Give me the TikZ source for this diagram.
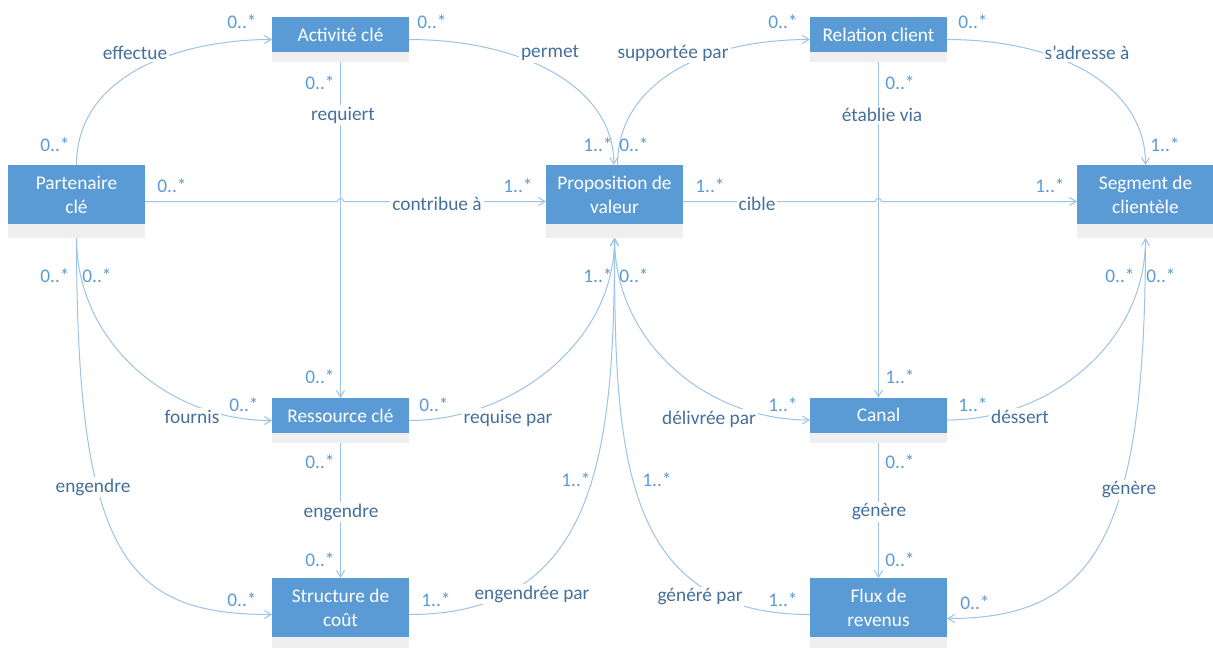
\documentclass[tikz,border=0pt]{standalone}
\usepackage{fontspec}
\setmainfont{Carlito}
\usetikzlibrary{arrows.meta}
\definecolor{entityblue}{HTML}{5B9BD5}
\definecolor{band}{HTML}{EFEFEF}
\definecolor{wire}{HTML}{9DC3E6}
\definecolor{rolecol}{HTML}{44709C}
\definecolor{multcol}{HTML}{5B9BD5}

% entity box: name, centre x, top y, blue height, band height, title
\newcommand\umlentity[6]{%
  \node[entity, minimum height={(#4+#5)*0.75pt}] (#1) at (#2,{#3+(#4+#5)/2}) {};
  \fill[entityblue] (#1.north west) rectangle ([yshift=#5*0.75pt]#1.south east);
  \node[title] (#1-t) at ([yshift=-#4*0.375pt]#1.north) {#6};
}
% small bridge where a line jumps over another one
\newcommand\hop[1]{-- ([xshift=-2.5pt]#1) .. controls ([xshift=-2pt,yshift=3pt]#1) and ([xshift=2pt,yshift=3pt]#1) .. ([xshift=2.5pt]#1)}

\begin{document}
\begin{tikzpicture}[x=0.75pt,y=-0.75pt,
  entity/.style={fill=band, minimum width=102.75pt, inner sep=0pt, outer sep=0pt},
  title/.style={text=white, font=\fontsize{14.5}{18}\selectfont, align=center, inner sep=0pt},
  conn/.style={draw=wire, line width=0.75pt},
  arr/.style={-{Straight Barb[length=5pt,width=6pt]}},
  role/.style={text=rolecol, fill=white, inner sep=1.5pt, font=\fontsize{14.5}{17}\selectfont},
  mult/.style={text=multcol, inner sep=0pt, font=\fontsize{14.5}{17}\selectfont},
]
\fill[white] (0,0) rectangle (1213,647);
\useasboundingbox (0,0) rectangle (1213,647);

% entities
\umlentity{pc}{76.5}{165}{59}{14}{Partenaire\\clé}
\umlentity{ac}{340.5}{17}{35}{10}{Activité clé}
\umlentity{rc}{340.5}{398}{35}{10}{Ressource clé}
\umlentity{sc}{340.5}{578}{59}{14}{Structure de\\coût}
\umlentity{pv}{614.5}{165}{59}{14}{Proposition de\\valeur}
\umlentity{rel}{878.5}{17}{35}{10}{Relation client}
\umlentity{can}{878.5}{397.5}{35}{10}{Canal}
\umlentity{flux}{878.5}{578}{59}{14}{Flux de\\revenus}
\umlentity{seg}{1145.5}{165}{59}{14}{Segment de\\clientèle}

\coordinate (x1) at (ac.south |- pc.east);
\coordinate (x2) at (rel.south |- pv.east);

% connectors
\draw[conn,arr] (pc.north) .. controls +(0,-91) and +(-91,0) .. (ac.west);
\draw[conn,arr] (ac.east) .. controls +(110,0) and +(0,-80) .. ([xshift=-0.5pt]pv.north);
\draw[conn,arr] ([xshift=2.25pt]pv.north) .. controls +(0,-80) and +(-110,0) .. (rel.west);
\draw[conn,arr] (rel.east) .. controls +(110,0) and +(0,-80) .. (seg.north);
\draw[conn,arr] (ac.south) -- (rc.north);
\draw[conn,arr] (rel.south) -- (can.north);
\draw[conn,arr] (pc.east) \hop{x1} -- (pv.west);
\draw[conn,arr] (pv.east) \hop{x2} -- (seg.west);
\draw[conn,arr] (pc.south) .. controls +(0,104) and +(-104,0) .. (rc.west);
\draw[conn,arr] (pc.south) .. controls +(0,320) and +(-145,0) .. (sc.west);
\draw[conn,arr] (rc.east) .. controls +(104,0) and +(0,104) .. (pv.south);
\draw[conn,arr] (pv.south) .. controls +(0,104) and +(-104,0) .. (can.west);
\draw[conn,arr] (can.east) .. controls +(104,0) and +(0,104) .. (seg.south);
\draw[conn,arr] (rc.south) -- (sc.north);
\draw[conn,arr] (can.south) -- (flux.north);
\draw[conn,arr] (sc.east) .. controls +(190,0) and +(0,212) .. (pv.south);
\draw[conn,arr] (flux.west) .. controls +(-190,0) and +(0,212) .. (pv.south);
\draw[conn,arr] (seg.south) .. controls +(0,300) and +(148,0) .. ([yshift=-3pt]flux.east);

% role names
\node[role] (l1) at (135,53) {effectue};
\node[role] (l2) at (550,53) {permet};
\node[role] (l3) at (673,53) {supportée par};
\node[role] (l4) at (1087,53) {s’adresse à};
\node[role] (l5) at (343,115) {requiert};
\node[role] (l6) at (882,115) {établie via};
\node[role] (l7) at (437,204) {contribue à};
\node[role] (l8) at (757,204) {cible};
\node[role] (l9) at (192,417) {fournis};
\node[role] (l10) at (508,418) {requise par};
\node[role] (l11) at (709,419) {délivrée par};
\node[role] (l12) at (1020,417) {déssert};
\node[role] (l13) at (93,487) {engendre};
\node[role] (l14) at (341,512) {engendre};
\node[role] (l15) at (879,512) {génère};
\node[role] (l16) at (1129,490) {génère};
\node[role] (l17) at (532,594) {engendrée par};
\node[role] (l18) at (700,597) {généré par};

% multiplicities
\node[mult] (m1) at (242,22) {0..*};
\node[mult] (m2) at (432,22) {0..*};
\node[mult] (m3) at (320,83) {0..*};
\node[mult] (m4) at (55,145) {0..*};
\node[mult] (m5) at (598,145) {1..*};
\node[mult] (m6) at (634,145) {0..*};
\node[mult] (m7) at (783,22) {0..*};
\node[mult] (m8) at (973,22) {0..*};
\node[mult] (m9) at (900,83) {0..*};
\node[mult] (m10) at (1165,145) {1..*};
\node[mult] (m11) at (172,186) {0..*};
\node[mult] (m12) at (518,186) {1..*};
\node[mult] (m13) at (710,186) {1..*};
\node[mult] (m14) at (1050,186) {1..*};
\node[mult] (m15) at (55,276) {0..*};
\node[mult] (m16) at (97,276) {0..*};
\node[mult] (m17) at (598,276) {1..*};
\node[mult] (m18) at (634,276) {0..*};
\node[mult] (m19) at (1120,276) {0..*};
\node[mult] (m20) at (1161,276) {0..*};
\node[mult] (m21) at (320,377) {0..*};
\node[mult] (m22) at (900,377) {1..*};
\node[mult] (m23) at (244,405) {0..*};
\node[mult] (m24) at (434,405) {0..*};
\node[mult] (m25) at (783,405) {1..*};
\node[mult] (m26) at (973,405) {1..*};
\node[mult] (m27) at (320,462) {0..*};
\node[mult] (m28) at (900,462) {0..*};
\node[mult] (m29) at (576,480) {1..*};
\node[mult] (m30) at (657,480) {1..*};
\node[mult] (m31) at (320,560) {0..*};
\node[mult] (m32) at (900,560) {0..*};
\node[mult] (m33) at (242,600) {0..*};
\node[mult] (m34) at (436,600) {1..*};
\node[mult] (m35) at (783,600) {1..*};
\node[mult] (m36) at (975,603) {0..*};
\end{tikzpicture}
\end{document}
